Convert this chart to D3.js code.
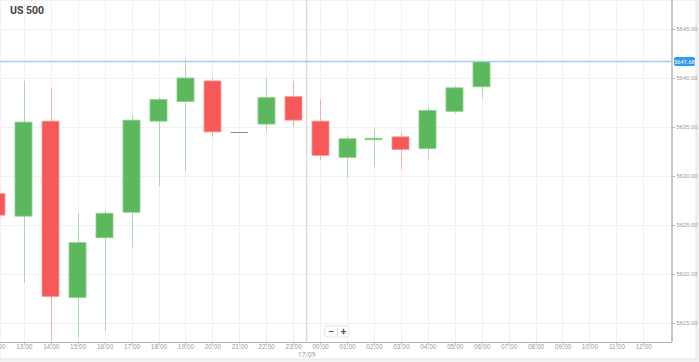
<!DOCTYPE html>
<html>
<head>
<meta charset="utf-8">
<script src="https://cdn.jsdelivr.net/npm/d3@7"></script>
<style>
  body { margin: 0; background: #f3f3f3; }
  svg { display: block; font-family: Roboto, "Open Sans", sans-serif; }
</style>
</head>
<body>
<svg id="chart"></svg>
<script>
// hourly candles, 16/09 12:00 -> 17/09 06:00
var hourLabels = ["12:00","13:00","14:00","15:00","16:00","17:00","18:00","19:00","20:00","21:00","22:00","23:00",
                  "00:00","01:00","02:00","03:00","04:00","05:00","06:00","07:00","08:00","09:00","10:00","11:00","12:00"]
var openVals  = [5628.2, 5625.9, 5635.6, 5617.6, 5623.7, 5626.3, 5635.6, 5637.6, 5639.7, 5634.5, 5635.3, 5638.1, 5635.6, 5631.9, 5633.7, 5634.0, 5632.8, 5636.6, 5639.1]
var highVals  = [5628.2, 5639.7, 5639.0, 5626.2, 5626.5, 5636.2, 5638.0, 5642.0, 5640.0, 5634.5, 5640.0, 5639.7, 5637.8, 5634.1, 5634.7, 5634.5, 5637.0, 5639.2, 5641.7]
var lowVals   = [5626.0, 5619.1, 5613.2, 5613.5, 5614.2, 5622.7, 5629.0, 5630.5, 5634.0, 5634.5, 5634.6, 5635.0, 5631.6, 5629.8, 5631.0, 5630.7, 5631.7, 5636.4, 5638.0]
var closeVals = [5626.0, 5635.5, 5617.7, 5623.2, 5626.2, 5635.7, 5637.8, 5640.0, 5634.5, 5634.5, 5638.0, 5635.7, 5632.1, 5633.8, 5633.85, 5632.7, 5636.7, 5639.0, 5641.68]
var priceTicks = [5615, 5620, 5625, 5630, 5635, 5640, 5645]
var lastPrice = 5641.68
var dayLabel = "17/09"
var title = "US 500"

var dimensions = {
  width: 699,
  height: 362,
  panelW: 696,
  panelH: 359,
  plotRight: 672,
  plotBottom: 342
}

var svg = d3.select("#chart")
  .attr("width", dimensions.width)
  .attr("height", dimensions.height)

var candles = openVals.map(function(o, i) {
  return { i: i, open: o, high: highVals[i], low: lowVals[i], close: closeVals[i] }
})

var x = d3.scaleLinear().domain([0, 24]).range([-3.1, 643.3])
var y = d3.scaleLinear().domain([5615, 5645]).range([323, 29])

// white panel
svg.append("rect")
  .attr("width", dimensions.panelW)
  .attr("height", dimensions.panelH)
  .attr("fill", "white")
  .attr("stroke", "#e6e6e6")

svg.append("clipPath").attr("id", "plotclip")
  .append("rect")
  .attr("width", dimensions.plotRight)
  .attr("height", dimensions.plotBottom)

// grid
var grid = svg.append("g").attr("clip-path", "url(#plotclip)")
grid.selectAll(".vg").data(d3.range(0, 25)).join("line")
  .attr("x1", d => Math.round(x(d)) + 0.5)
  .attr("x2", d => Math.round(x(d)) + 0.5)
  .attr("y1", 0).attr("y2", dimensions.plotBottom)
  .attr("stroke", "#f1f1f1")
grid.selectAll(".hg").data(priceTicks).join("line")
  .attr("x1", 0).attr("x2", dimensions.plotRight)
  .attr("y1", d => Math.round(y(d)) + 0.5)
  .attr("y2", d => Math.round(y(d)) + 0.5)
  .attr("stroke", "#f1f1f1")

// day separator
grid.append("line")
  .attr("x1", x(11.5)).attr("x2", x(11.5))
  .attr("y1", 0).attr("y2", dimensions.plotBottom)
  .attr("stroke", "#dcdcdc")
  .attr("stroke-width", 1.5)

// candles
var green = "#5cb85c", red = "#f75959"
var bodyW = 17
var cg = svg.append("g").attr("clip-path", "url(#plotclip)")

cg.selectAll(".wick").data(candles).join("line")
  .attr("x1", d => Math.round(x(d.i)) + 0.5)
  .attr("x2", d => Math.round(x(d.i)) + 0.5)
  .attr("y1", d => y(d.high))
  .attr("y2", d => y(d.low))
  .attr("stroke", d => d.close > d.open ? green : red)
  .attr("stroke-opacity", 0.45)

cg.selectAll(".body").data(candles.filter(d => d.open != d.close)).join("rect")
  .attr("x", d => Math.round(x(d.i) - bodyW / 2))
  .attr("y", d => y(Math.max(d.open, d.close)))
  .attr("width", bodyW)
  .attr("height", d => Math.max(1.5, Math.abs(y(d.open) - y(d.close))))
  .attr("fill", d => d.close > d.open ? green : red)
  .attr("stroke", d => d.close > d.open ? "#8fd08f" : "#fb9a9a")
  .attr("stroke-width", 0.8)

// doji
cg.selectAll(".doji").data(candles.filter(d => d.open == d.close)).join("line")
  .attr("x1", d => x(d.i) - bodyW / 2)
  .attr("x2", d => x(d.i) + bodyW / 2)
  .attr("y1", d => Math.round(y(d.open)) + 0.5)
  .attr("y2", d => Math.round(y(d.open)) + 0.5)
  .attr("stroke", "#8a8a8a")

// current price line
svg.append("line")
  .attr("x1", 0).attr("x2", dimensions.plotRight)
  .attr("y1", y(lastPrice)).attr("y2", y(lastPrice))
  .attr("stroke", "#9fd0f3")
  .attr("stroke-width", 1.5)

// axes
var xAxis = svg.append("g")
  .attr("transform", "translate(0," + dimensions.plotBottom + ")")
  .call(d3.axisBottom(x).tickValues(d3.range(0, 25)).tickSize(3).tickFormat(d => hourLabels[d]))
xAxis.select(".domain").attr("stroke", "#b5b5b5").attr("d", "M0,0.5H" + dimensions.plotRight)
xAxis.selectAll(".tick line").attr("stroke", "#b5b5b5")
xAxis.selectAll(".tick text")
  .attr("fill", "#9a9a9a")
  .attr("font-size", 6.5)
  .attr("dy", "0.5em")
  .attr("y", 4)

svg.append("text")
  .attr("x", x(11.5))
  .attr("y", 357)
  .attr("text-anchor", "middle")
  .attr("fill", "#9a9a9a")
  .attr("font-size", 6.5)
  .text(dayLabel)

var yAxis = svg.append("g")
  .attr("transform", "translate(" + dimensions.plotRight + ",0)")
  .call(d3.axisRight(y).tickValues(priceTicks).tickSize(3).tickFormat(d3.format(".2f")))
yAxis.select(".domain").attr("stroke", "#c8c8c8").attr("stroke-width", 2)
  .attr("d", "M0,0V" + dimensions.plotBottom)
yAxis.selectAll(".tick line").attr("stroke", "#b5b5b5")
yAxis.selectAll(".tick text")
  .attr("fill", "#9a9a9a")
  .attr("font-size", 5.8)
  .attr("x", 4.5)

// last price tag
var tag = svg.append("g").attr("transform", "translate(674," + y(lastPrice) + ")")
tag.append("rect")
  .attr("x", 0).attr("y", -4.5)
  .attr("width", 21).attr("height", 9)
  .attr("rx", 2)
  .attr("fill", "#2f9cf0")
tag.append("text")
  .attr("x", 10.5).attr("y", 0)
  .attr("dy", "0.35em")
  .attr("text-anchor", "middle")
  .attr("fill", "white")
  .attr("font-size", 5.8)
  .text(lastPrice.toFixed(2))

// title
svg.append("text")
  .attr("x", 10).attr("y", 14)
  .attr("fill", "#444")
  .attr("font-size", 10.5)
  .attr("font-weight", "bold")
  .text(title)

// zoom buttons
var zb = svg.append("g").attr("transform", "translate(325,326)")
zb.append("rect").attr("width", 24).attr("height", 11).attr("rx", 1.5)
  .attr("fill", "white").attr("stroke", "#e3e3e3")
zb.append("line").attr("x1", 12.5).attr("x2", 12.5).attr("y1", 1).attr("y2", 10).attr("stroke", "#e3e3e3")
zb.append("text").attr("x", 6).attr("y", 8.5).attr("text-anchor", "middle")
  .attr("font-size", 10).attr("font-weight", "bold").attr("fill", "#555").text("−")
zb.append("text").attr("x", 18.5).attr("y", 8.5).attr("text-anchor", "middle")
  .attr("font-size", 10).attr("font-weight", "bold").attr("fill", "#555").text("+")
</script>
</body>
</html>
